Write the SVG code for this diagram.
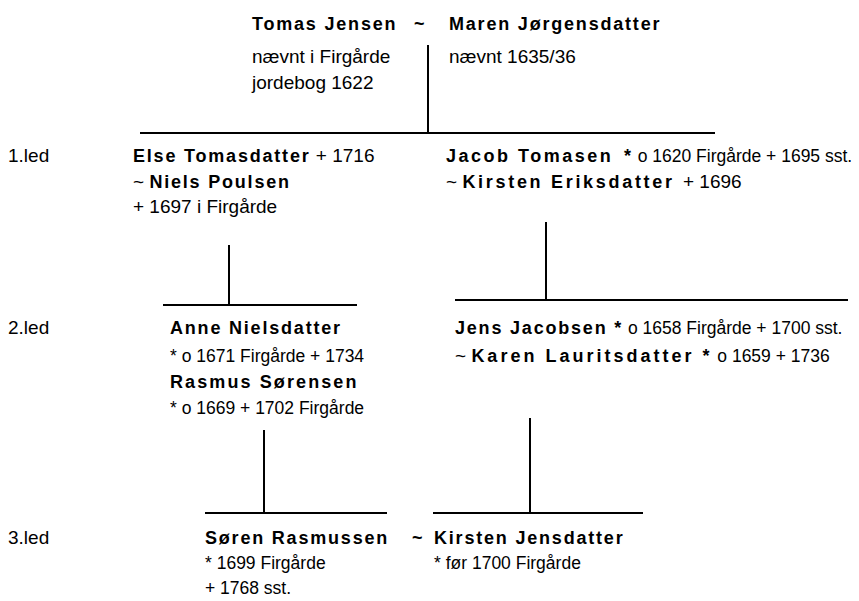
<svg xmlns="http://www.w3.org/2000/svg" width="859" height="601" viewBox="0 0 859 601">
<style>
text{font-family:"Liberation Sans",Arial,Helvetica,sans-serif;fill:#000}
.b{font-weight:bold;font-size:18px;letter-spacing:1.8px}
.r{font-size:19px}
.s{font-size:17.5px}
.c line{stroke:#000;stroke-width:2;fill:none}
</style>
<rect width="859" height="601" fill="#fff"/>
<g id="connectors" class="c">
<line x1="428" y1="45" x2="428" y2="133"/>
<line x1="140" y1="133" x2="715" y2="133"/>
<line x1="229" y1="245" x2="229" y2="305"/>
<line x1="163" y1="305" x2="357" y2="305"/>
<line x1="546" y1="222" x2="546" y2="300"/>
<line x1="455" y1="300" x2="848" y2="300"/>
<line x1="264" y1="430" x2="264" y2="513"/>
<line x1="205" y1="513" x2="387" y2="513"/>
<line x1="530" y1="418" x2="530" y2="513"/>
<line x1="433" y1="513" x2="643" y2="513"/>
</g>
<g id="generations">
<text x="8" y="162" class="r">1.led</text>
<text x="8" y="334" class="r">2.led</text>
<text x="8" y="544" class="r">3.led</text>
</g>
<g id="tomas-maren">
<text x="252" y="30" class="b">Tomas Jensen</text>
<text x="414" y="30" class="b">~</text>
<text x="449" y="30" class="b">Maren Jørgensdatter</text>
<text x="252" y="63" class="r">nævnt i Firgårde</text>
<text x="252" y="89" class="r">jordebog 1622</text>
<text x="449" y="63" class="r">nævnt 1635/36</text>
</g>
<g id="else-niels">
<text x="133" y="162"><tspan class="b">Else Tomasdatter</tspan><tspan class="r"> + 1716</tspan></text>
<text x="133" y="188"><tspan class="r">~ </tspan><tspan class="b">Niels Poulsen</tspan></text>
<text x="133" y="213" class="r">+ 1697 i Firgårde</text>
</g>
<g id="jacob-kirsten">
<text x="446" y="162"><tspan class="b" style="letter-spacing:2.5px">Jacob Tomasen</tspan><tspan class="b" x="624">*</tspan><tspan class="s"> o 1620 Firgårde + 1695 sst.</tspan></text>
<text x="446" y="188"><tspan class="r">~ </tspan><tspan class="b" style="letter-spacing:2.7px">Kirsten Eriksdatter</tspan><tspan class="r" x="683">+ 1696</tspan></text>
</g>
<g id="anne-rasmus">
<text x="170" y="334" class="b">Anne Nielsdatter</text>
<text x="170" y="362" class="s">* o 1671 Firgårde + 1734</text>
<text x="170" y="388" class="b" style="letter-spacing:2.1px">Rasmus Sørensen</text>
<text x="170" y="414" class="s">* o 1669 + 1702 Firgårde</text>
</g>
<g id="jens-karen">
<text x="455" y="334"><tspan class="b">Jens Jacobsen *</tspan><tspan class="s"> o 1658 Firgårde + 1700 sst.</tspan></text>
<text x="455" y="362"><tspan class="r">~ </tspan><tspan class="b" style="letter-spacing:3px">Karen Lauritsdatter *</tspan><tspan class="s"> o 1659 + 1736</tspan></text>
</g>
<g id="soren-kirsten">
<text x="205" y="544" class="b">Søren Rasmussen</text>
<text x="412" y="544" class="b">~</text>
<text x="434" y="544" class="b">Kirsten Jensdatter</text>
<text x="205" y="569" class="s">* 1699 Firgårde</text>
<text x="205" y="594" class="s">+ 1768 sst.</text>
<text x="434" y="569" class="s">* før 1700 Firgårde</text>
</g>
</svg>
